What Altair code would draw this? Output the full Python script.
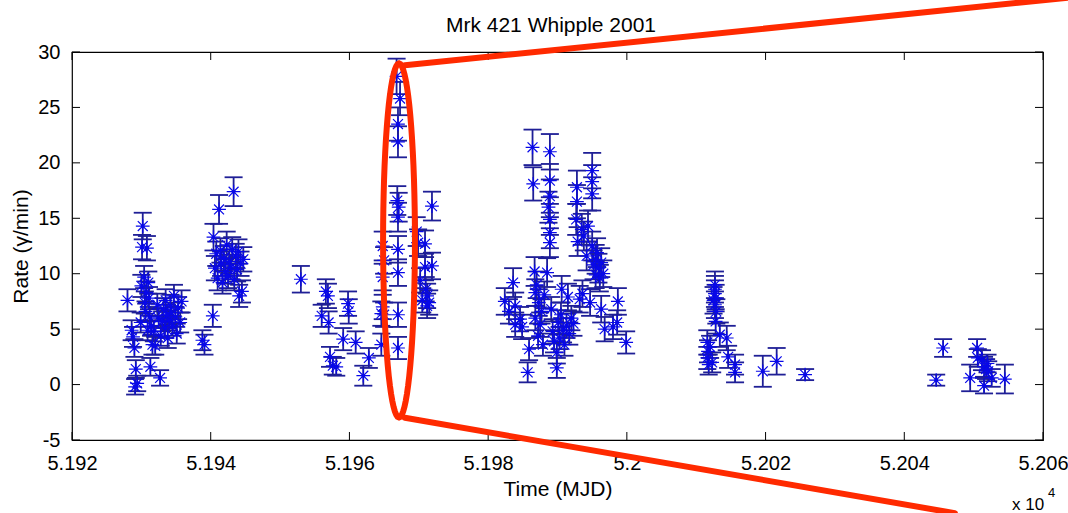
import math
import altair as alt
import pandas as pd

# ---------------- data (MJD, rate in gamma/min, 1-sigma error) ----------------
t_a = [51928.0, 51928.6, 51928.8, 51929.0, 51929.2, 51929.1, 51929.4, 51929.9, 51930.0, 51930.2,
       51930.1, 51930.4, 51930.5, 51930.6, 51930.7, 51930.8, 51930.9, 51931.0, 51931.1, 51931.2,
       51931.3, 51931.4, 51931.6, 51931.8, 51932.0, 51932.3, 51932.5, 51932.7, 51932.8, 51933.0,
       51933.2, 51933.4, 51933.5, 51933.7, 51933.8, 51934.0, 51934.2, 51934.3, 51934.5, 51934.7,
       51934.9, 51935.1, 51935.3, 51935.6, 51935.8]
r_a = [7.6, 4.9, 4.3, 3.3, 1.4, -0.2, 0.1, 5.6, 8.9, 14.3,
       12.4, 9.7, 7.4, 6.6, 8.3, 12.3, 4.9, 9.2, 7.8, 6.1,
       1.6, 5.3, 3.6, 4.8, 3.5, 7.2, 6.0, 0.6, 4.4, 5.7,
       6.8, 5.1, 7.6, 6.3, 4.2, 5.8, 7.1, 6.5, 5.3, 8.0,
       6.1, 4.6, 6.9, 5.6, 7.5]
e_a = [1.0, 0.9, 0.9, 0.8, 0.8, 0.7, 0.7, 0.9, 1.0, 1.2,
       1.1, 1.0, 1.0, 0.9, 1.0, 1.1, 0.9, 1.0, 1.0, 0.9,
       0.8, 0.9, 0.9, 0.9, 0.8, 1.0, 0.9, 0.7, 0.9, 0.9,
       1.0, 0.9, 1.0, 0.9, 0.9, 0.9, 1.0, 0.9, 0.9, 1.0,
       0.9, 0.9, 1.0, 0.9, 1.0]

t_b = [51938.8, 51939.1, 51940.3, 51940.4, 51940.6, 51940.8, 51941.0, 51941.2, 51941.4, 51941.5,
       51941.7, 51941.9, 51942.1, 51942.3, 51942.5, 51942.7, 51942.9, 51943.1, 51943.3, 51943.4,
       51943.6, 51943.8, 51944.0, 51944.1, 51944.3, 51944.5, 51944.7]
r_b = [4.0, 3.6, 6.2, 13.3, 10.5, 11.8, 9.6, 15.8, 12.1, 10.9,
       9.2, 11.4, 10.2, 12.6, 9.8, 11.1, 10.6, 12.2, 17.4, 9.5,
       11.6, 10.4, 12.0, 8.0, 10.9, 8.4, 11.3]
e_b = [0.9, 0.9, 1.0, 1.2, 1.1, 1.1, 1.1, 1.3, 1.1, 1.1,
       1.0, 1.1, 1.1, 1.2, 1.1, 1.1, 1.1, 1.1, 1.3, 1.0,
       1.1, 1.1, 1.1, 1.0, 1.1, 1.0, 1.1]

t_c = [51953.0, 51956.0, 51956.6, 51956.9, 51957.0, 51957.2, 51957.6, 51958.1, 51959.1, 51959.8,
       51959.9, 51960.9, 51962.0, 51962.8, 51964.6, 51964.6, 51964.8, 51964.8, 51964.8, 51965.0,
       51965.0,
       51966.8, 51967.3, 51967.0, 51967.0, 51966.9, 51967.1, 51967.0, 51967.0, 51967.0, 51967.0,
       51967.0,
       51969.7, 51969.9, 51970.9, 51970.9, 51971.9, 51971.9, 51971.0, 51971.2, 51971.2, 51970.5,
       51971.5, 51970.2]
r_c = [9.5, 6.2, 8.4, 8.0, 5.6, 2.5, 1.7, 1.6, 4.1, 7.3,
       6.6, 3.8, 0.8, 2.4, 3.6, 6.4, 7.0, 9.7, 12.5, 11.2,
       6.3,
       27.8, 25.8, 23.5, 21.9, 16.6, 16.0, 15.1, 12.2, 10.1, 6.3,
       3.3,
       13.8, 12.8, 12.7, 10.6, 16.1, 10.7, 8.6, 8.0, 7.1, 7.6,
       7.4, 9.4]
e_c = [1.2, 1.0, 1.1, 1.1, 1.0, 0.9, 0.8, 0.8, 1.0, 1.1,
       1.1, 1.0, 0.9, 0.9, 1.0, 1.1, 1.1, 1.2, 1.3, 1.2,
       1.1,
       1.6, 1.5, 1.5, 1.4, 1.3, 1.3, 1.3, 1.2, 1.2, 1.1,
       1.0,
       1.3, 1.2, 1.2, 1.2, 1.3, 1.2, 1.1, 1.1, 1.1, 1.1,
       1.1, 1.1]

t_d = [51982.4, 51983.0, 51983.6, 51983.9, 51983.9, 51984.6, 51984.9, 51985.7, 51985.9, 51986.4,
       51986.5, 51986.7, 51986.8, 51986.8, 51987.0, 51987.2, 51987.3, 51987.5, 51987.7, 51987.9,
       51988.1, 51988.5, 51988.7, 51988.9, 51988.9, 51988.9, 51988.9, 51988.9, 51988.9, 51989.1,
       51989.3, 51989.5, 51989.9, 51989.9, 51990.1, 51990.3, 51990.5, 51990.6, 51990.8, 51991.0,
       51991.3, 51991.5, 51991.7, 51992.0, 51992.3, 51992.8, 51992.8, 51992.7, 51992.9, 51993.2,
       51993.5, 51993.6, 51993.8, 51994.2, 51994.4, 51994.7, 51995.0, 51995.0, 51995.0, 51995.0,
       51995.2, 51995.5, 51995.7, 51995.5, 51995.9, 51996.1, 51996.3, 51996.6, 51996.3, 51996.8,
       51998.0, 51998.6, 51998.7, 51999.9]
r_d = [7.5, 6.6, 9.2, 7.1, 5.4, 5.9, 5.2, 1.1, 3.2, 21.4,
       18.1, 10.2, 8.3, 6.0, 9.0, 4.4, 7.4, 5.4, 6.6, 3.6,
       8.1, 10.1, 16.0, 21.0, 18.4, 17.0, 14.9, 13.7, 12.8, 6.8,
       4.8, 3.9, 2.9, 1.5, 5.6, 4.2, 6.3, 8.6, 4.9, 3.6,
       5.3, 7.9, 4.6, 6.0, 5.5, 17.8, 16.5, 14.9, 12.9, 7.7,
       14.0, 8.2, 13.4, 11.6, 14.3, 7.4, 19.3, 18.3, 17.2, 12.5,
       10.8, 9.9, 11.9, 11.3, 10.5, 9.6, 11.0, 10.0, 6.8, 5.0,
       5.2, 5.6, 7.5, 3.8]
e_d = [1.2, 1.1, 1.3, 1.2, 1.1, 1.1, 1.1, 0.9, 1.0, 1.6,
       1.5, 1.3, 1.2, 1.1, 1.2, 1.1, 1.2, 1.1, 1.1, 1.0,
       1.2, 1.3, 1.4, 1.6, 1.5, 1.5, 1.4, 1.4, 1.3, 1.1,
       1.1, 1.0, 1.0, 0.9, 1.1, 1.0, 1.1, 1.2, 1.1, 1.0,
       1.1, 1.2, 1.0, 1.1, 1.1, 1.5, 1.5, 1.4, 1.3, 1.2,
       1.4, 1.2, 1.3, 1.3, 1.4, 1.2, 1.6, 1.5, 1.5, 1.3,
       1.3, 1.2, 1.3, 1.3, 1.3, 1.2, 1.3, 1.2, 1.2, 1.1,
       1.1, 1.1, 1.2, 1.0]

t_e = [52011.6, 52011.7, 52011.6, 52011.8, 52012.0, 52012.3, 52012.5, 52012.7, 52012.7, 52012.7,
       52012.8, 52012.7, 52012.9, 52012.8, 52013.4, 52014.4, 52014.6, 52015.6, 52015.6, 52019.6,
       52021.6, 52025.7]
r_e = [3.8, 3.0, 2.4, 1.8, 3.4, 2.0, 7.6, 9.0, 8.6, 8.2,
       7.8, 7.2, 6.6, 5.7, 4.5, 4.2, 2.5, 1.8, 1.1, 1.2,
       2.1, 0.9]
e_e = [1.1, 1.0, 1.0, 0.9, 1.0, 0.9, 1.2, 1.2, 1.2, 1.2,
       1.2, 1.2, 1.1, 1.1, 1.1, 1.1, 1.0, 0.9, 0.9, 1.4,
       1.2, 0.5]

t_f = [52044.6, 52045.6, 52049.5, 52050.5, 52050.6, 52051.2, 52051.5, 52051.8, 52052.0, 52052.1,
       52052.6, 52051.5, 52054.5]
r_f = [0.4, 3.3, 0.6, 3.3, 2.4, 2.2, 1.6, 1.4, 1.9, 1.2,
       0.6, -0.1, 0.5]
e_f = [0.5, 0.8, 1.2, 0.8, 0.8, 0.9, 0.9, 0.9, 0.8, 0.9,
       0.8, 0.7, 1.3]

x_ticks = [51920, 51940, 51960, 51980, 52000, 52020, 52040, 52060]
y_ticks = [-5, 0, 5, 10, 15, 20, 25, 30]

# red highlight annotation (data coordinates)
ell_t = [51967.15]
ell_r = [13.0]
line_t1 = [51968.0, 51968.0]
line_r1 = [28.8, -3.0]
line_t2 = [52063.6, 52047.3]
line_r2 = [34.9, -11.6]

# ---------------- build ----------------
W, H = 971, 388
PAD = {"left": 72, "top": 52, "right": 25, "bottom": 73}
FONT = "Liberation Sans"
BAR = "#1f1f96"
STAR = "#0808e8"
RED = "#ff2a00"

df = pd.DataFrame({
    "t": t_a + t_b + t_c + t_d + t_e + t_f,
    "rate": r_a + r_b + r_c + r_d + r_e + r_f,
    "err": e_a + e_b + e_c + e_d + e_e + e_f,
})

xscale = alt.Scale(domain=[51920, 52060], nice=False, zero=False)
yscale = alt.Scale(domain=[-5, 30], nice=False, zero=False)
xaxis = alt.Axis(values=x_ticks, labelExpr="format(datum.value/10000, '.4~f')",
                 ticks=False, domain=False, grid=False, labelPadding=13,
                 titlePadding=5, labelFlush=False)
yaxis = alt.Axis(values=y_ticks, labelExpr="'' + datum.value", ticks=False,
                 domain=False, grid=False, labelPadding=12, titlePadding=6)


def X(f):
    return alt.X(f, type="quantitative", scale=xscale, axis=xaxis, title="Time (MJD)")


def Y(f):
    return alt.Y(f, type="quantitative", scale=yscale, axis=yaxis, title="Rate (γ/min)")


base = alt.Chart(df).transform_calculate(
    lo="datum.rate - datum.err", hi="datum.rate + datum.err",
    cl="datum.t - 1.3", cr="datum.t + 1.3")

ebar = base.mark_rule(color=BAR, strokeWidth=1.8).encode(
    x=X("t"), y=Y("lo"), y2="hi:Q")
cap_lo = base.mark_rule(color=BAR, strokeWidth=1.8).encode(
    x=X("cl"), x2="cr:Q", y=Y("lo"))
cap_hi = base.mark_rule(color=BAR, strokeWidth=1.8).encode(
    x=X("cl"), x2="cr:Q", y=Y("hi"))

STAR_PATH = ("M0,-1L0,1M-1,0L1,0M-0.72,-0.72L0.72,0.72M-0.72,0.72L0.72,-0.72")
stars = base.mark_point(shape=STAR_PATH, size=190, filled=False, strokeWidth=1.2,
                        color=STAR, opacity=1).encode(x=X("t"), y=Y("rate"))
dots = base.mark_point(shape="circle", size=14, filled=True, color=STAR,
                       opacity=1).encode(x=X("t"), y=Y("rate"))

xt = alt.Chart(pd.DataFrame({"v": x_ticks}))
yt = alt.Chart(pd.DataFrame({"v": y_ticks}))
tk = dict(color="black", strokeWidth=1)
tick_b = xt.mark_rule(**tk).encode(x=X("v"), y=alt.value(H), y2=alt.value(H - 8))
tick_t = xt.mark_rule(**tk).encode(x=X("v"), y=alt.value(0), y2=alt.value(8))
tick_l = yt.mark_rule(**tk).encode(y=Y("v"), x=alt.value(0), x2=alt.value(8))
tick_r = yt.mark_rule(**tk).encode(y=Y("v"), x=alt.value(W), x2=alt.value(W - 8))

ry = 177.0
pts = []
for k in range(73):
    a = 2 * math.pi * k / 72
    pts.append(f"{0.09 * math.cos(a):.4f},{math.sin(a):.4f}")
ELLIPSE = "M" + "L".join(pts) + "Z"
ellipse = alt.Chart(pd.DataFrame({"t": ell_t, "rate": ell_r})).mark_point(
    shape=ELLIPSE, size=(2 * ry) ** 2, filled=False, stroke=RED, strokeWidth=6,
    opacity=1).encode(x=X("t"), y=Y("rate"))

lines = alt.Chart(pd.DataFrame({"t": line_t1, "rate": line_r1,
                                "t2": line_t2, "r2": line_r2})).mark_rule(
    color=RED, strokeWidth=6, strokeCap="round").encode(
    x=X("t"), y=Y("rate"), x2="t2:Q", y2="r2:Q")

title = alt.Chart(pd.DataFrame({"s": ["Mrk 421 Whipple 2001"]})).mark_text(
    font=FONT, fontSize=21, color="black", align="center", baseline="alphabetic").encode(
    text="s:N", x=alt.value(479), y=alt.value(-20))
x10 = alt.Chart(pd.DataFrame({"s": ["x 10"]})).mark_text(
    font=FONT, fontSize=17, color="black", align="left", baseline="alphabetic").encode(
    text="s:N", x=alt.value(940), y=alt.value(458))
sup4 = alt.Chart(pd.DataFrame({"s": ["4"]})).mark_text(
    font=FONT, fontSize=13, color="black", align="left", baseline="alphabetic").encode(
    text="s:N", x=alt.value(976), y=alt.value(445))

chart = alt.layer(
    ebar, cap_lo, cap_hi, stars, dots,
    tick_b, tick_t, tick_l, tick_r,
    ellipse, lines, title, x10, sup4,
).properties(
    width=W, height=H,
    autosize=alt.AutoSizeParams(type="none"),
    padding=PAD,
    background="white",
).configure_view(
    stroke="black", strokeWidth=1.2,
).configure_axis(
    labelFont=FONT, labelFontSize=20, labelColor="black",
    titleFont=FONT, titleFontSize=21, titleFontWeight="normal", titleColor="black",
)

chart.save("out.html", embed_options={"renderer": "svg", "actions": False})
